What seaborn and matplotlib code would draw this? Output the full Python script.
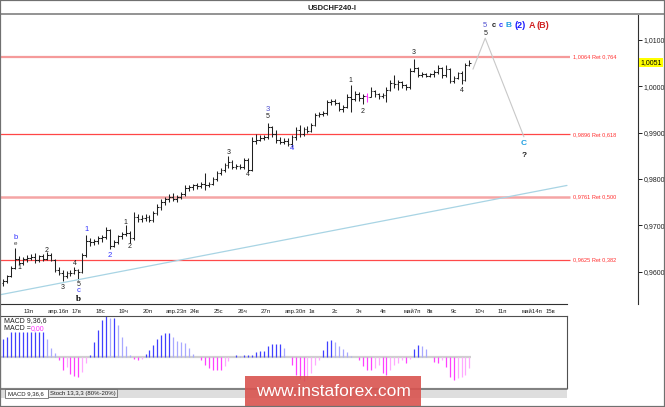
import numpy as np
import pandas as pd
import seaborn as sns
import matplotlib.pyplot as plt
import matplotlib.transforms as mtransforms
from matplotlib.patches import Rectangle
from matplotlib.lines import Line2D

W, H = 665, 407

# 4H bars, USDCHF, Apr 12 - May 9
opens = [0.9575, 0.9580, 0.9590, 0.9608, 0.9628, 0.9618, 0.9628, 0.9630, 0.9632, 0.9626,
         0.9634, 0.9628, 0.9636, 0.9626, 0.9604, 0.9598, 0.9590, 0.9596, 0.9598, 0.9604,
         0.9600, 0.9636, 0.9666, 0.9664, 0.9666, 0.9672, 0.9674, 0.9690, 0.9656, 0.9664,
         0.9676, 0.9682, 0.9684, 0.9672, 0.9718, 0.9714, 0.9716, 0.9718, 0.9712, 0.9726,
         0.9740, 0.9750, 0.9756, 0.9762, 0.9756, 0.9760, 0.9768, 0.9780, 0.9782, 0.9786,
         0.9784, 0.9790, 0.9786, 0.9790, 0.9800, 0.9812, 0.9820, 0.9830, 0.9836, 0.9826,
         0.9828, 0.9826, 0.9842, 0.9820, 0.9882, 0.9884, 0.9888, 0.9890, 0.9912, 0.9896,
         0.9884, 0.9880, 0.9882, 0.9876, 0.9890, 0.9906, 0.9896, 0.9908, 0.9904, 0.9916,
         0.9938, 0.9940, 0.9942, 0.9966, 0.9968, 0.9964, 0.9950, 0.9956, 0.9978, 0.9972,
         0.9984, 0.9974, 0.9980, 0.9978, 0.9990, 0.9984, 0.9980, 0.9982, 0.9992, 1.0008,
         1.0004, 1.0010, 1.0002, 0.9998, 1.0034, 1.0040, 1.0024, 1.0026, 1.0022, 1.0026,
         1.0032, 1.0040, 1.0024, 1.0038, 1.0012, 1.0018, 1.0028, 1.0014, 1.0046]
highs = [0.9584, 0.9592, 0.9612, 0.9650, 0.9634, 0.9632, 0.9636, 0.9638, 0.9640, 0.9636,
         0.9638, 0.9642, 0.9640, 0.9628, 0.9610, 0.9604, 0.9602, 0.9604, 0.9610, 0.9606,
         0.9640, 0.9680, 0.9672, 0.9670, 0.9676, 0.9678, 0.9696, 0.9692, 0.9668, 0.9680,
         0.9686, 0.9700, 0.9688, 0.9728, 0.9724, 0.9722, 0.9724, 0.9722, 0.9730, 0.9746,
         0.9756, 0.9762, 0.9768, 0.9770, 0.9766, 0.9772, 0.9786, 0.9788, 0.9790, 0.9792,
         0.9794, 0.9812, 0.9794, 0.9804, 0.9818, 0.9824, 0.9834, 0.9850, 0.9840, 0.9832,
         0.9832, 0.9846, 0.9846, 0.9890, 0.9896, 0.9894, 0.9894, 0.9920, 0.9914, 0.9906,
         0.9890, 0.9888, 0.9888, 0.9894, 0.9912, 0.9916, 0.9912, 0.9914, 0.9920, 0.9942,
         0.9944, 0.9946, 0.9970, 0.9972, 0.9972, 0.9966, 0.9960, 0.9984, 1.0002, 0.9990,
         0.9988, 0.9984, 0.9986, 0.9998, 0.9992, 0.9986, 0.9986, 0.9998, 1.0014, 1.0024,
         1.0014, 1.0012, 1.0006, 1.0040, 1.0059, 1.0042, 1.0030, 1.0029, 1.0029, 1.0036,
         1.0046, 1.0042, 1.0046, 1.0040, 1.0022, 1.0032, 1.0034, 1.0050, 1.0057]
lows = [0.9568, 0.9576, 0.9588, 0.9605, 0.9615, 0.9614, 0.9620, 0.9624, 0.9618, 0.9620,
        0.9622, 0.9624, 0.9622, 0.9600, 0.9592, 0.9580, 0.9586, 0.9590, 0.9594, 0.9582,
        0.9598, 0.9632, 0.9656, 0.9658, 0.9660, 0.9664, 0.9670, 0.9648, 0.9652, 0.9660,
        0.9670, 0.9676, 0.9662, 0.9668, 0.9708, 0.9708, 0.9710, 0.9706, 0.9708, 0.9722,
        0.9734, 0.9744, 0.9750, 0.9752, 0.9750, 0.9756, 0.9764, 0.9774, 0.9776, 0.9778,
        0.9780, 0.9776, 0.9782, 0.9788, 0.9796, 0.9808, 0.9816, 0.9824, 0.9822, 0.9822,
        0.9822, 0.9822, 0.9814, 0.9818, 0.9876, 0.9882, 0.9884, 0.9886, 0.9890, 0.9878,
        0.9876, 0.9876, 0.9872, 0.9868, 0.9884, 0.9890, 0.9892, 0.9900, 0.9902, 0.9914,
        0.9934, 0.9936, 0.9938, 0.9960, 0.9960, 0.9946, 0.9944, 0.9954, 0.9944, 0.9968,
        0.9968, 0.9962, 0.9966, 0.9976, 0.9978, 0.9972, 0.9975, 0.9966, 0.9990, 0.9996,
        0.9992, 0.9996, 0.9992, 0.9994, 1.0032, 1.0020, 1.0020, 1.0020, 1.0020, 1.0020,
        1.0026, 1.0018, 1.0020, 1.0007, 1.0007, 1.0016, 1.0005, 1.0012, 1.0044]
closes = [0.9580, 0.9590, 0.9608, 0.9628, 0.9618, 0.9628, 0.9630, 0.9632, 0.9626, 0.9634,
          0.9628, 0.9636, 0.9626, 0.9604, 0.9598, 0.9590, 0.9596, 0.9598, 0.9604, 0.9600,
          0.9636, 0.9666, 0.9664, 0.9666, 0.9672, 0.9674, 0.9690, 0.9656, 0.9664, 0.9676,
          0.9682, 0.9684, 0.9672, 0.9718, 0.9714, 0.9716, 0.9718, 0.9712, 0.9726, 0.9740,
          0.9750, 0.9756, 0.9762, 0.9756, 0.9760, 0.9768, 0.9780, 0.9782, 0.9786, 0.9784,
          0.9790, 0.9786, 0.9790, 0.9800, 0.9812, 0.9820, 0.9830, 0.9836, 0.9826, 0.9828,
          0.9826, 0.9842, 0.9820, 0.9882, 0.9884, 0.9888, 0.9890, 0.9912, 0.9896, 0.9884,
          0.9880, 0.9882, 0.9876, 0.9890, 0.9906, 0.9896, 0.9908, 0.9904, 0.9916, 0.9938,
          0.9940, 0.9942, 0.9966, 0.9968, 0.9964, 0.9950, 0.9956, 0.9978, 0.9972, 0.9984,
          0.9974, 0.9980, 0.9978, 0.9990, 0.9984, 0.9980, 0.9982, 0.9992, 1.0008, 1.0004,
          1.0010, 1.0002, 0.9998, 1.0034, 1.0040, 1.0024, 1.0026, 1.0022, 1.0026, 1.0032,
          1.0040, 1.0024, 1.0038, 1.0012, 1.0018, 1.0028, 1.0014, 1.0046, 1.0051]
highlight_bar = 92

# MACD 9,36,6 histogram (x1e-4)
macd_hist = [18, 20, 25, 25, 25, 25, 25, 25, 25, 25, 25, 18, 9, 4,
             -3, -13, -10, -17, -19, -20, -15, -6,
             2,
             15, 27, 37, 41, 39, 39, 32, 20, 11, 2, -2, -3, -2, 3, 7, 12, 18, 22, 24, 24,
             20, 16, 15, 14, 9, 3, 0, -3, -8, -11, -13, -13, -13, -9, -4, 0, 2, 1, 2, 2,
             2, 5, 6, 6, 11, 13, 13, 13, 9,
             0, -8, -18, -22, -24, -22, -16, -8, -3,
             7, 16, 17, 15, 11, 8, 5, 1,
             0,
             -3, -9, -13, -13, -11, -8, -16, -18, -13, -8, -6, -3, -6, -2,
             8, 12, 11, 8,
             0,
             -5, -6, -3, -10, -20, -23, -21, -20, -18, -11]

fib_levels = [1.0064, 0.9896, 0.9761, 0.9625]
fib_ratios = ["0,764", "0,618", "0,500", "0,382"]
trend_idx = [-0.8, 142.7]
trend_price = [0.9550, 0.9786]
proj_idx = [118.9, 122.0, 131.8]
proj_price = [1.0037, 1.0104, 0.9891]
last_price = 1.0051
price_ticks = [0.96, 0.97, 0.98, 0.99, 1.00, 1.01]
day_labels = ["13п", "апр.16п", "17в", "18с", "19ч", "20п", "апр.23п", "24в", "25с", "26ч",
              "27п", "апр.30п", "1в", "2с", "3ч", "4п", "май7п", "8в", "9с", "10ч", "11п",
              "май14п", "15в"]

wave_text = ["b", "e", "1", "2", "3", "4", "5", "c", "b", "1", "2", "1", "2", "3", "4",
             "3", "5", "4", "1", "2", "3", "4", "5", "C", "?",
             "5", "c", "c", "B", "(2)", "A", "(B)"]
wave_idx = [3, 3, 4, 11, 15, 18, 19, 19, 19, 21, 27, 31, 32, 57, 62,
            67, 67, 73, 88, 91, 104, 116, 122, 131.8, 131.8,
            121.9, 124.2, 125.9, 127.8, 130.9, 133.8, 136.7]
wave_price = [0.9673, 0.9661, 0.9608, 0.9645, 0.9565, 0.9617, 0.9573, 0.9559, 0.9541,
              0.9690, 0.9634, 0.9706, 0.9655, 0.9858, 0.9809, 0.9951, 0.9934, 0.9865,
              1.0012, 0.9945, 1.0072, 0.9992, 1.0115, 0.9876, 0.9851,
              1.0132, 1.0132, 1.0132, 1.0132, 1.0132, 1.0132, 1.0132]
wave_kind = ["blue", "small", "black", "black", "black", "black", "black", "blue", "bigb",
             "blue", "blue", "black", "black", "black", "black", "slate", "black", "blue",
             "black", "black", "black", "black", "black", "lblue", "q",
             "slate", "bc", "bblue", "lblue", "big2", "red", "red"]
styles = {
    "black": dict(color="#202020", fontsize=5),
    "small": dict(color="#404040", fontsize=4.5),
    "blue": dict(color="#3030ff", fontsize=5.5),
    "slate": dict(color="#5050d0", fontsize=5.5),
    "bigb": dict(color="black", fontsize=6.5, fontweight="bold", family="Liberation Serif"),
    "lblue": dict(color="#1e9ee0", fontsize=6, fontweight="bold"),
    "q": dict(color="#202020", fontsize=6, fontweight="bold"),
    "bc": dict(color="#202020", fontsize=5.5, fontweight="bold"),
    "bblue": dict(color="#3030ff", fontsize=5.5, fontweight="bold"),
    "big2": dict(color="#1a1aff", fontsize=6.5, fontweight="bold"),
    "red": dict(color="#d02020", fontsize=6.5, fontweight="bold"),
}

sns.set_style("white")
plt.rcParams['font.family'] = ['Liberation Sans', 'DejaVu Sans']


def fx(px):
    return px / W


def fy(py):
    return 1 - py / H


def bx(px):
    # pixel column -> bar index (one 4H bar ~3.95 px)
    return (px - 3.3) / 3.95


fig = plt.figure(figsize=(W / 100, H / 100), dpi=100)

# ---- price panel
ax = fig.add_axes([0, fy(304), fx(638), (304 - 15) / H])
ax.set_xlim(bx(0), bx(638))
ax.set_ylim(0.9530, 1.0154)

idx = np.arange(len(closes))
bar_cols = ["#ff30ff" if i == highlight_bar else "#202020" for i in idx]
ax.vlines(idx, lows, highs, colors=bar_cols, lw=0.75)
ax.hlines(opens, idx - 0.45, idx, colors=bar_cols, lw=0.75)
ax.hlines(closes, idx, idx + 0.45, colors=bar_cols, lw=0.75)

fib_styles = [("#f59a9a", 1.6), ("#ff4646", 0.9), ("#f5a5a5", 1.8), ("#ff4a4a", 0.9)]
for lvl, ratio, (c, lw) in zip(fib_levels, fib_ratios, fib_styles):
    ax.hlines(lvl, bx(0), bx(570), color=c, lw=lw, zorder=1)
    ax.text(bx(573), lvl, f"{lvl:.4f}".replace(".", ",") + " Ret " + ratio,
            color="#ff3030", fontsize=4.1, va="center", ha="left")

sns.lineplot(x=trend_idx, y=trend_price, ax=ax, color="#a8d4e4", lw=0.9)
sns.lineplot(x=proj_idx, y=proj_price, ax=ax, color="#c8c8c8", lw=0.8)

for t, i, p, k in zip(wave_text, wave_idx, wave_price, wave_kind):
    ax.text(i, p, t, ha="center", va="center", **styles[k])

for s in ["left", "top"]:
    ax.spines[s].set_visible(False)
ax.spines["right"].set_color("#303030")
ax.spines["right"].set_linewidth(0.8)
ax.spines["bottom"].set_color("#303030")
ax.spines["bottom"].set_linewidth(0.8)
ax.spines["bottom"].set_bounds(bx(0), bx(567))

ax.yaxis.tick_right()
ax.set_yticks(price_ticks)
ax.set_yticklabels([f"{v:.4f}".replace(".", ",") for v in price_ticks])
ax.tick_params(axis="y", length=3, width=0.7, pad=1, labelsize=5, colors="#202020")

day_pos = [6 * (k + 1) - 0.76 for k in range(len(day_labels))]
ax.set_xticks(day_pos)
ax.set_xticklabels(day_labels, ha="left")
ax.tick_params(axis="x", length=2.5, width=0.7, pad=1.2, labelsize=4.3, colors="#202020")
ax.grid(False)

trans = mtransforms.blended_transform_factory(ax.transAxes, ax.transData)
ax.text(1.004, last_price, f"{last_price:.4f}".replace(".", ","), transform=trans,
        fontsize=5, va="center", ha="left", color="black",
        bbox=dict(facecolor="#ffff00", edgecolor="none", pad=0.9))

# ---- MACD panel
axm = fig.add_axes([0, fy(388), fx(567), 72 / H])
axm.set_xlim(bx(0), bx(567))
axm.set_ylim(-31, 41)
macd_cols = []
prev = 0
for v in macd_hist:
    if v >= 0:
        macd_cols.append("#4040ff" if v >= prev else "#a8a8ff")
    else:
        macd_cols.append("#ff40ff" if v <= prev else "#ffa8ff")
    prev = v
axm.hlines(0, bx(0), len(macd_hist) - 0.5, color="#cfcfcf", lw=1.6, zorder=0)
axm.vlines(np.arange(len(macd_hist)), 0, macd_hist, colors=macd_cols, lw=0.9)
axm.set_xticks([])
axm.set_yticks([])
for s in axm.spines.values():
    s.set_color("#505050")
    s.set_linewidth(0.8)

fig.text(fx(4), fy(321), "MACD 9,36,6", fontsize=5, color="#202020", va="center")
fig.text(fx(4), fy(329), "MACD =", fontsize=5, color="#202020", va="center")
fig.text(fx(31), fy(329), "0,00", fontsize=5, color="#ff30ff", va="center")

# ---- tabs under the indicator
fig.patches.append(Rectangle((0, fy(398)), fx(567), 10 / H, transform=fig.transFigure,
                             facecolor="#dedede", edgecolor="none"))
fig.add_artist(Line2D([0, fx(567)], [fy(388.5), fy(388.5)], color="#707070", lw=1.2))
fig.patches.append(Rectangle((fx(5), fy(398)), fx(43), 9 / H, transform=fig.transFigure,
                             facecolor="white", edgecolor="#707070", lw=0.6))
fig.patches.append(Rectangle((fx(48), fy(397)), fx(69), 8 / H, transform=fig.transFigure,
                             facecolor="#e8e8e8", edgecolor="#707070", lw=0.6))
fig.text(fx(8), fy(393.5), "MACD 9,36,6", fontsize=4.3, color="#202020", va="center")
fig.text(fx(50), fy(393), "Stoch 13,3,3 (80%-20%)", fontsize=4.3, color="#202020", va="center")

# ---- title
fig.text(fx(332), fy(8), "USDCHF240-I", fontsize=5.5, fontweight="bold", ha="center",
         va="center", color="#202020")
fig.add_artist(Line2D([0, 1], [fy(13.5), fy(13.5)], color="#8a8a8a", lw=1.3))

# ---- watermark
fig.patches.append(Rectangle((fx(245), 0), fx(176), 31 / H, transform=fig.transFigure,
                             facecolor="#d9534f", edgecolor="none", alpha=0.9, zorder=5))
fig.text(fx(333), fy(391), "www.instaforex.com", fontsize=12.5, color="white",
         ha="center", va="center", zorder=6)

fig.patches.append(Rectangle((0, 0), 1, 1, transform=fig.transFigure, fill=False,
                             edgecolor="#707070", lw=1.6, zorder=7))

fig.savefig("out.png", dpi=100)
